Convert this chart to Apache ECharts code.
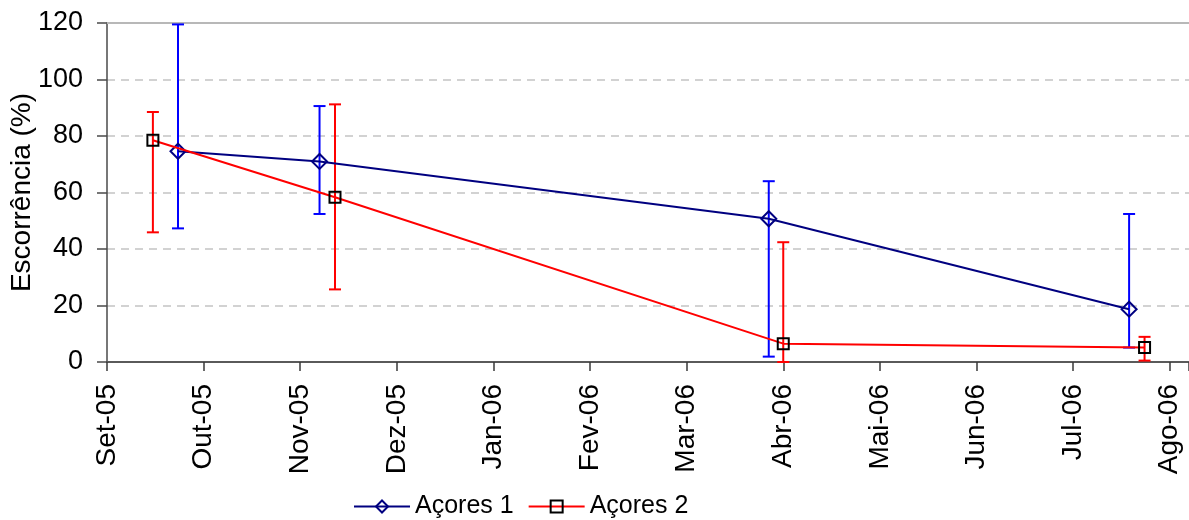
<!DOCTYPE html>
<html>
<head>
<meta charset="utf-8">
<script src="https://cdn.jsdelivr.net/npm/echarts@6/dist/echarts.min.js"></script>
<style>
  html, body { margin: 0; padding: 0; background: #fff; }
  #chart { width: 1189px; height: 520px; }
</style>
</head>
<body>
<div id="chart"></div>
<script>
// Month tick labels (one per month, evenly spaced)
const monthLabels = ['Set-05', 'Out-05', 'Nov-05', 'Dez-05', 'Jan-06', 'Fev-06',
  'Mar-06', 'Abr-06', 'Mai-06', 'Jun-06', 'Jul-06', 'Ago-06'];

// Sampling positions, in months counted from Set-05
const acores1X = [0.735, 2.20, 6.85, 10.58];
const acores2X = [0.475, 2.36, 7.00, 10.74];

// Mean runoff (%)
const acores1Y = [74.6, 71.0, 50.7, 18.7];
const acores2Y = [78.5, 58.3, 6.5, 5.1];

// Error bar extents (%)
const acores1Low = [47.3, 52.4, 1.9, 5.1];
const acores1High = [119.5, 90.6, 64.0, 52.4];
const acores2Low = [45.9, 25.7, 0.0, 0.5];
const acores2High = [88.5, 91.2, 42.4, 8.9];

const FONT = '"Liberation Sans", Arial, sans-serif';

function pairs(xs, ys) { return xs.map((x, i) => [x, ys[i]]); }
function bars(xs, lo, hi) { return xs.map((x, i) => [x, lo[i], hi[i]]); }

function errorBarSeries(name, color, data) {
  return {
    type: 'custom',
    name: name,
    data: data,
    z: 1,
    encode: { x: 0, y: [1, 2] },
    renderItem: function (params, api) {
      const x = api.value(0);
      const lo = api.coord([x, api.value(1)]);
      const hi = api.coord([x, api.value(2)]);
      const half = 6;
      const style = { stroke: color, lineWidth: 2 };
      return {
        type: 'group',
        children: [
          { type: 'line', shape: { x1: lo[0], y1: lo[1], x2: hi[0], y2: hi[1] }, style: style },
          { type: 'line', shape: { x1: hi[0] - half, y1: hi[1], x2: hi[0] + half, y2: hi[1] }, style: style },
          { type: 'line', shape: { x1: lo[0] - half, y1: lo[1], x2: lo[0] + half, y2: lo[1] }, style: style }
        ]
      };
    }
  };
}

const chart = echarts.init(document.getElementById('chart'), null, { renderer: 'canvas' });

chart.setOption({
  animation: false,
  backgroundColor: '#ffffff',
  textStyle: { fontFamily: FONT },
  grid: { left: 107, right: 0, top: 23, bottom: 158, containLabel: false, outerBoundsMode: 'none' },
  legend: {
    data: ['Açores 1', 'Açores 2'],
    left: 353,
    top: 494,
    padding: 0,
    itemWidth: 56,
    itemHeight: 15,
    itemGap: 14,
    textStyle: { fontSize: 25, color: '#000', fontFamily: FONT }
  },
  xAxis: [{
    type: 'value',
    min: 0,
    max: 11.2,
    interval: 1,
    axisLine: { show: true, lineStyle: { color: '#5a5a5a', width: 2 } },
    axisTick: { show: true, length: 9, lineStyle: { color: '#3a3a3a', width: 1.5 } },
    splitLine: { show: false },
    axisLabel: {
      rotate: 90,
      margin: 22,
      fontSize: 28,
      color: '#000',
      fontFamily: FONT,
      formatter: function (v) {
        const i = Math.round(v);
        return Math.abs(v - i) < 1e-6 && monthLabels[i] ? monthLabels[i] : '';
      }
    }
  }, {
    type: 'value',
    position: 'top',
    min: 0,
    max: 11.2,
    axisLine: { show: true, lineStyle: { color: '#b8b8b8', width: 2 } },
    axisTick: { show: false },
    axisLabel: { show: false },
    splitLine: { show: false }
  }],
  yAxis: {
    type: 'value',
    min: 0,
    max: 120,
    interval: 20,
    name: 'Escorrência (%)',
    nameLocation: 'middle',
    nameGap: 71,
    nameMoveOverlap: false,
    nameTextStyle: { fontSize: 28, color: '#000', fontFamily: FONT },
    axisLine: { show: true, lineStyle: { color: '#4a4a4a', width: 1.5 } },
    axisTick: { show: true, length: 10, lineStyle: { color: '#4a4a4a', width: 1.5 } },
    axisLabel: { margin: 24, fontSize: 27, color: '#000', fontFamily: FONT },
    splitLine: { show: true, lineStyle: { color: '#c4c4c4', width: 1.5, type: [8, 6] } }
  },
  series: [
    errorBarSeries('Açores 1 erro', '#0000ff', bars(acores1X, acores1Low, acores1High)),
    errorBarSeries('Açores 2 erro', '#ff0000', bars(acores2X, acores2Low, acores2High)),
    {
      type: 'line',
      name: 'Açores 1',
      data: pairs(acores1X, acores1Y),
      z: 3,
      symbol: 'diamond',
      symbolSize: 15,
      lineStyle: { color: '#000080', width: 2 },
      itemStyle: { color: 'rgba(255,255,255,0)', borderColor: '#000080', borderWidth: 2 }
    },
    {
      type: 'line',
      name: 'Açores 2',
      data: pairs(acores2X, acores2Y),
      z: 4,
      symbol: 'rect',
      symbolSize: 11,
      lineStyle: { color: '#ff0000', width: 2 },
      itemStyle: { color: 'rgba(255,255,255,0)', borderColor: '#000000', borderWidth: 2 }
    }
  ]
});
</script>
</body>
</html>
